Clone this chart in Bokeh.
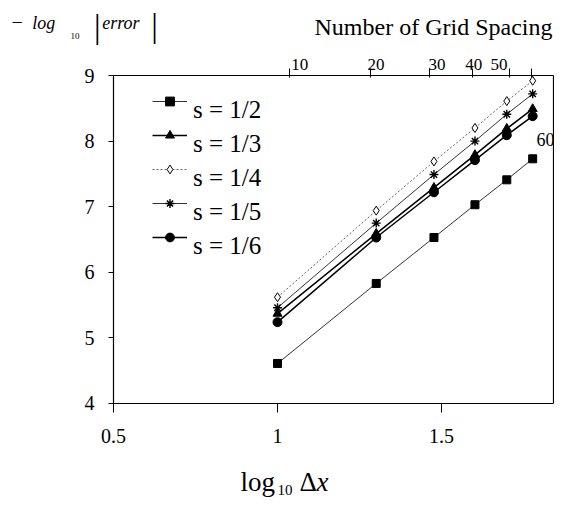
from bokeh.plotting import figure
from bokeh.models import (LinearAxis, FixedTicker, Label, Legend, LegendItem, Range1d)
from bokeh.embed import file_html
from bokeh.resources import INLINE

# ---- data ----
log_dx = [1.0, 1.301, 1.477, 1.602, 1.699, 1.778]
s_half = [4.61, 5.83, 6.53, 7.03, 7.41, 7.73]
s_third = [5.37, 6.59, 7.29, 7.79, 8.19, 8.49]
s_quarter = [5.62, 6.94, 7.69, 8.20, 8.61, 8.92]
s_fifth = [5.46, 6.75, 7.49, 8.00, 8.41, 8.72]
s_sixth = [5.24, 6.53, 7.22, 7.71, 8.09, 8.38]
labels = ["s = 1/2", "s = 1/3", "s = 1/4", "s = 1/5", "s = 1/6"]

x_ticks = [0.5, 1.0, 1.5]
x_tick_labels = ["0.5", "1", "1.5"]
y_ticks = [4, 5, 6, 7, 8, 9]
y_tick_labels = ["4", "5", "6", "7", "8", "9"]
top_tick_pos = [1.037, 1.285, 1.462, 1.595, 1.706, 1.775]      # grid-count ticks (as drawn)
top_label_pos = [1.068, 1.30, 1.486, 1.598, 1.675]             # where their labels sit
top_tick_labels = ["10", "20", "30", "40", "50"]

X_LO, X_HI = 0.5, 1.842   # plot box
Y_LO, Y_HI = 4, 9

FONT = "Liberation Serif"

p = figure(width=554, height=498,
           x_range=Range1d(0.15549, 1.84451), y_range=Range1d(2.5518, 10.1433),
           output_backend="svg", toolbar_location=None, title_location=None,
           x_axis_location=None, y_axis_location=None, min_border=0)
p.xgrid.visible = False
p.ygrid.visible = False
p.outline_line_color = None
p.background_fill_color = "white"
p.border_fill_color = "white"


def style_axis(ax, size="20px"):
    ax.minor_tick_line_color = None
    ax.major_label_text_font = FONT
    ax.major_label_text_font_size = size
    ax.major_label_text_color = "black"
    ax.axis_line_color = "black"
    ax.axis_line_width = 1.2
    ax.major_tick_line_color = "black"
    ax.major_tick_in = 0


# bottom axis (log10 dx)
xa = LinearAxis(fixed_location=Y_LO, bounds=(X_LO, X_HI), ticker=FixedTicker(ticks=x_ticks),
                major_label_overrides={t: l for t, l in zip(x_ticks, x_tick_labels)})
style_axis(xa)
xa.major_tick_out = 9
xa.major_label_standoff = 17
p.add_layout(xa, "below")

# left axis
ya = LinearAxis(fixed_location=X_LO, bounds=(Y_LO, Y_HI), ticker=FixedTicker(ticks=y_ticks),
                major_label_overrides={t: l for t, l in zip(y_ticks, y_tick_labels)})
style_axis(ya)
ya.major_tick_out = 5
ya.major_label_standoff = 14
p.add_layout(ya, "left")

# top axis: ticks for number of grid spacing
top = LinearAxis(fixed_location=Y_HI, bounds=(X_LO, X_HI), ticker=FixedTicker(ticks=top_tick_pos))
style_axis(top)
top.major_tick_out = 7
top.major_tick_in = 2
top.major_label_text_color = None
p.add_layout(top, "above")

# top axis labels
top_lab = LinearAxis(fixed_location=Y_HI, bounds=(X_LO, X_HI), ticker=FixedTicker(ticks=top_label_pos),
                     major_label_overrides={t: l for t, l in zip(top_label_pos, top_tick_labels)})
style_axis(top_lab, "17px")
top_lab.axis_line_color = None
top_lab.major_tick_line_color = None
top_lab.major_tick_out = 0
top_lab.major_label_standoff = 6
p.add_layout(top_lab, "above")

# right border of the box
ra = LinearAxis(fixed_location=X_HI, bounds=(Y_LO, Y_HI), ticker=FixedTicker(ticks=[]))
style_axis(ra)
ra.major_label_text_color = None
p.add_layout(ra, "right")

# series
l1 = p.line(log_dx, s_half, line_color="#333333", line_width=1)
m1 = p.scatter(log_dx, s_half, marker="square", size=8, fill_color="black", line_color="black")
l2 = p.line(log_dx, s_third, line_color="black", line_width=1.5)
m2 = p.scatter(log_dx, s_third, marker="triangle", size=9, fill_color="black", line_color="black")
l3 = p.line(log_dx, s_quarter, line_color="#666666", line_width=1, line_dash="2 2")
m3 = p.scatter(log_dx, s_quarter, marker="diamond", size=9, fill_color="white", line_color="black", line_width=1)
l4 = p.line(log_dx, s_fifth, line_color="#333333", line_width=1)
m4 = p.scatter(log_dx, s_fifth, marker="asterisk", size=9, line_color="black", line_width=1.4)
l5 = p.line(log_dx, s_sixth, line_color="black", line_width=1.5)
m5 = p.scatter(log_dx, s_sixth, marker="circle", size=9, fill_color="black", line_color="black")

common = dict(border_line_color=None, background_fill_alpha=0,
              label_text_font=FONT, label_text_font_size="25px", label_text_color="black",
              glyph_width=35, glyph_height=22, label_height=34, spacing=0,
              padding=0, margin=0, label_standoff=6)

# legend glyph column (sample line + marker for each series)
glyph_legend = Legend(items=[LegendItem(label=" ", renderers=rs)
                             for rs in ([l1, m1], [l2, m2], [l3, m3], [l4, m4], [l5, m5])],
                      location=(152, 244), **common)
p.add_layout(glyph_legend)

# legend text column, set a little lower than the samples as in the original
text_legend = Legend(items=[LegendItem(label=t, renderers=[]) for t in labels],
                     location=(152, 235), **common)
p.add_layout(text_legend)

H = 498


def lab(text, x, y_mid, size, style="normal", align="left"):
    # x, y_mid in pixels from the picture's top-left corner (vertical middle of the text)
    p.add_layout(Label(x=x, y=H - y_mid, x_units="screen", y_units="screen", text=text,
                       text_font=FONT, text_font_size=size, text_font_style=style,
                       text_align=align, text_baseline="middle", text_color="black"))


# y title: − log10 |error|
lab("\u2212", 16.7, 21, "20px", align="center")
lab("log", 31.7, 22, "18px", style="italic")
lab("10", 70, 35, "9px")
lab("|", 96.7, 26, "33px", align="center")
lab("error", 101.7, 22, "18px", style="italic")
lab("|", 154, 25, "33px", align="center")

# top title
lab("Number of Grid Spacing", 433, 26, "24px", align="center")

# '60' label at the right edge
lab("60", 554, 138.5, "18px", align="right")

# bottom title: log10 Δx
lab("log", 240, 481, "27px")
lab("10", 277, 489, "15px")
lab("\u0394", 299, 481, "27px")
lab("x", 316, 481, "27px", style="italic")

open("out.html", "w").write(file_html(p, INLINE))
